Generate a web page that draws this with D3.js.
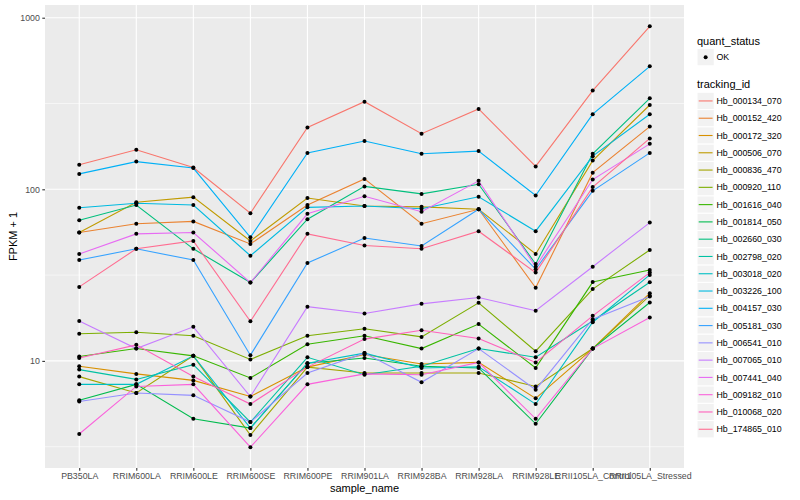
<!DOCTYPE html>
<html>
<head>
<meta charset="utf-8">
<script src="https://cdn.jsdelivr.net/npm/d3@7"></script>
<style>
  body { margin: 0; background: #fff; }
  svg text { font-family: "Liberation Sans", Arial, Helvetica, sans-serif; }
</style>
</head>
<body>
<svg id="chart" width="800" height="500"></svg>
<script>
const samples = ['PB350LA', 'RRIM600LA', 'RRIM600LE', 'RRIM600SE', 'RRIM600PE', 'RRIM901LA',
  'RRIM928BA', 'RRIM928LA', 'RRIM928LE', 'RRII105LA_Control', 'RRII105LA_Stressed'];

const trackingIds = ['Hb_000134_070', 'Hb_000152_420', 'Hb_000172_320', 'Hb_000506_070', 'Hb_000836_470',
  'Hb_000920_110', 'Hb_001616_040', 'Hb_001814_050', 'Hb_002660_030', 'Hb_002798_020',
  'Hb_003018_020', 'Hb_003226_100', 'Hb_004157_030', 'Hb_005181_030', 'Hb_006541_010',
  'Hb_007065_010', 'Hb_007441_040', 'Hb_009182_010', 'Hb_010068_020', 'Hb_174865_010'];

const colors = ['#F8766D', '#EA8331', '#D89000', '#C09B00', '#A3A500', '#7CAE00', '#39B600', '#00BB4E',
  '#00BF7D', '#00C1A3', '#00BFC4', '#00BAE0', '#00B0F6', '#35A2FF', '#9590FF', '#C77CFF',
  '#E76BF3', '#FA62DB', '#FF62BC', '#FF6C91'];

// FPKM + 1, one array per tracking_id, in sample order
const hb_000134_070 = [139, 170, 134, 72.5, 229, 324, 211, 294, 136, 376, 891];
const hb_000152_420 = [56, 63, 65, 48, 81, 115, 63, 76.5, 26.7, 125, 232];
const hb_000172_320 = [9.3, 8.4, 7.7, 6.2, 9.2, 10.9, 9.6, 9.8, 6.05, 11.8, 24.8];
const hb_000506_070 = [56, 84, 90, 50, 89, 80, 79, 76.5, 42, 147, 310];
const hb_000836_470 = [8.1, 6.5, 10.7, 3.7, 9.2, 8.5, 8.5, 8.5, 7.1, 11.8, 24.0];
const hb_000920_110 = [14.4, 14.7, 14.0, 10.2, 14.0, 15.4, 13.8, 21.8, 11.4, 26.2, 44.3];
const hb_001616_040 = [10.6, 11.8, 10.7, 7.95, 12.5, 14.0, 11.8, 16.4, 9.1, 28.8, 33.9];
const hb_001814_050 = [5.9, 7.3, 4.6, 4.06, 9.7, 10.4, 9.3, 9.1, 4.3, 11.8, 21.9];
const hb_002660_030 = [66, 81, 45, 28.6, 67, 104, 94, 107, 36.7, 161, 339];
const hb_002798_020 = [8.9, 7.8, 9.5, 4.4, 10.5, 8.3, 9.3, 11.8, 10.5, 17.1, 28.7];
const hb_003018_020 = [7.3, 7.3, 10.7, 4.06, 9.7, 11.1, 9.1, 9.25, 5.6, 16.8, 31.7];
const hb_003226_100 = [78, 83, 81, 41, 78.5, 80, 77, 90.5, 57, 156, 274];
const hb_004157_030 = [123, 145, 133, 52.5, 163, 191, 161, 167, 92, 274, 521];
const hb_005181_030 = [38.7, 45, 38.7, 10.8, 37.2, 52, 46.7, 76.5, 34.2, 98, 163];
const hb_006541_010 = [5.8, 6.5, 6.3, 4.4, 8.5, 11.1, 7.5, 11.8, 6.8, 17.5, 23.7];
const hb_007065_010 = [17.1, 11.8, 15.8, 6.2, 20.7, 18.9, 21.5, 23.4, 19.6, 35.4, 64];
const hb_007441_040 = [42, 55, 56, 28.6, 72, 91, 74, 112, 35.4, 114, 184];
const hb_009182_010 = [3.75, 7.1, 7.3, 3.14, 7.3, 8.4, 8.3, 9.8, 4.6, 11.8, 17.9];
const hb_010068_020 = [10.4, 12.4, 8.1, 5.6, 9.2, 13.4, 15.1, 13.5, 9.8, 18.3, 32.7];
const hb_174865_010 = [27, 45, 50, 17, 55, 47, 45, 57, 32.7, 103, 198];

const seriesValues = [hb_000134_070, hb_000152_420, hb_000172_320, hb_000506_070, hb_000836_470,
  hb_000920_110, hb_001616_040, hb_001814_050, hb_002660_030, hb_002798_020,
  hb_003018_020, hb_003226_100, hb_004157_030, hb_005181_030, hb_006541_010,
  hb_007065_010, hb_007441_040, hb_009182_010, hb_010068_020, hb_174865_010];

const yTicks = [10, 100, 1000];
const yMinor = [Math.pow(10, 0.5), Math.pow(10, 1.5), Math.pow(10, 2.5)];

const conf = { left: 45, right: 684, top: 5, bottom: 468 };

const svg = d3.select('#chart');

const x = d3.scalePoint().domain(samples).range([conf.left, conf.right]).padding(0.6);
const y = d3.scaleLog().domain([2.376, 1186]).range([conf.bottom, conf.top]);

svg.append('rect')
  .attr('x', conf.left).attr('y', conf.top)
  .attr('width', conf.right - conf.left).attr('height', conf.bottom - conf.top)
  .attr('fill', '#EBEBEB');

const grid = svg.append('g').classed('grid', true);
grid.selectAll('.minor')
  .data(yMinor)
  .enter()
  .append('line')
  .attr('x1', conf.left).attr('x2', conf.right)
  .attr('y1', d => y(d)).attr('y2', d => y(d))
  .attr('stroke', '#fff').attr('stroke-width', 0.55);
grid.selectAll('.majorY')
  .data(yTicks)
  .enter()
  .append('line')
  .attr('x1', conf.left).attr('x2', conf.right)
  .attr('y1', d => y(d)).attr('y2', d => y(d))
  .attr('stroke', '#fff').attr('stroke-width', 1.1);
grid.selectAll('.majorX')
  .data(samples)
  .enter()
  .append('line')
  .attr('x1', d => x(d)).attr('x2', d => x(d))
  .attr('y1', conf.top).attr('y2', conf.bottom)
  .attr('stroke', '#fff').attr('stroke-width', 1.1);

const series = trackingIds.map((id, i) => ({
  id: id,
  color: colors[i],
  values: seriesValues[i].map((v, j) => ({ sample: samples[j], value: v }))
}));

const line = d3.line().x(d => x(d.sample)).y(d => y(d.value));

svg.append('g').selectAll('path')
  .data(series)
  .enter()
  .append('path')
  .attr('d', d => line(d.values))
  .attr('fill', 'none')
  .attr('stroke', d => d.color)
  .attr('stroke-width', 1.1);

svg.append('g').selectAll('circle')
  .data(series.flatMap(s => s.values))
  .enter()
  .append('circle')
  .attr('cx', d => x(d.sample))
  .attr('cy', d => y(d.value))
  .attr('r', 2)
  .attr('fill', '#000');

// axes
const xAxis = svg.append('g').attr('transform', `translate(0,${conf.bottom})`)
  .call(d3.axisBottom(x).tickSize(2.7).tickPadding(2.5));
const yAxis = svg.append('g').attr('transform', `translate(${conf.left},0)`)
  .call(d3.axisLeft(y).tickValues(yTicks).tickFormat(d3.format('d')).tickSize(2.7).tickPadding(2.5));
[xAxis, yAxis].forEach(a => {
  a.select('.domain').remove();
  a.selectAll('.tick line').attr('stroke', '#333333').attr('stroke-width', 1.1);
  a.selectAll('.tick text').attr('fill', '#4D4D4D').attr('font-size', 8.8)
    .style('font-family', '"Liberation Sans", Arial, sans-serif');
});

svg.append('text')
  .text('sample_name')
  .attr('x', (conf.left + conf.right) / 2).attr('y', 492)
  .attr('text-anchor', 'middle')
  .attr('font-size', 11).attr('fill', '#000');

svg.append('text')
  .text('FPKM + 1')
  .attr('transform', `translate(17,${(conf.top + conf.bottom) / 2}) rotate(-90)`)
  .attr('text-anchor', 'middle')
  .attr('font-size', 11).attr('fill', '#000');

// legends
const lg = svg.append('g').attr('transform', 'translate(697,0)');
const keySize = 17.28;

lg.append('text').text('quant_status')
  .attr('x', 0).attr('y', 44.5).attr('font-size', 11).attr('fill', '#000');
lg.append('rect')
  .attr('x', 0).attr('y', 48.5).attr('width', keySize).attr('height', keySize)
  .attr('fill', '#F2F2F2').attr('stroke', '#fff');
lg.append('circle')
  .attr('cx', keySize / 2).attr('cy', 48.5 + keySize / 2).attr('r', 2).attr('fill', '#000');
lg.append('text').text('OK')
  .attr('x', 19.5).attr('y', 48.5 + keySize / 2 + 3.1).attr('font-size', 8.8).attr('fill', '#000');

lg.append('text').text('tracking_id')
  .attr('x', 0).attr('y', 88).attr('font-size', 11).attr('fill', '#000');

const keyTop = 92.3;
const keys = lg.selectAll('.key')
  .data(series)
  .enter()
  .append('g')
  .classed('key', true)
  .attr('transform', (d, i) => `translate(0,${keyTop + i * keySize})`);
keys.append('rect')
  .attr('width', keySize).attr('height', keySize)
  .attr('fill', '#F2F2F2').attr('stroke', '#fff');
keys.append('line')
  .attr('x1', 1.7).attr('x2', keySize - 1.7)
  .attr('y1', keySize / 2).attr('y2', keySize / 2)
  .attr('stroke', d => d.color).attr('stroke-width', 1.1);
keys.append('text')
  .text(d => d.id)
  .attr('x', 19.5).attr('y', keySize / 2 + 3.1)
  .attr('font-size', 8.8).attr('fill', '#000');
</script>
</body>
</html>
